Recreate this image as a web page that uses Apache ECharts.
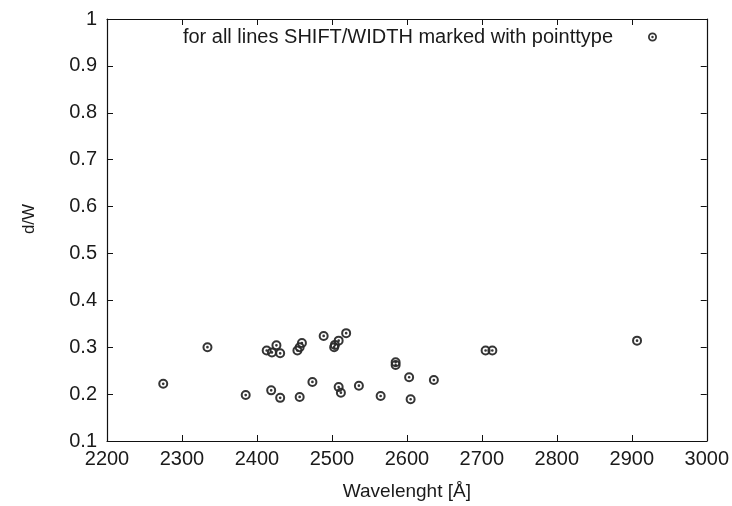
<!DOCTYPE html>
<html>
<head>
<meta charset="utf-8">
<script src="https://cdn.jsdelivr.net/npm/echarts@6/dist/echarts.min.js"></script>
<style>
html,body{margin:0;padding:0;background:#fff;}
#c{width:732px;height:506px;}
</style>
</head>
<body>
<div id="c"></div>
<script>
const wavelength = [2275, 2334, 2385, 2413, 2419, 2420, 2426, 2431, 2431, 2454, 2457, 2457, 2460, 2474, 2489, 2503, 2504, 2509, 2509, 2512, 2519, 2536, 2565, 2585, 2585, 2603, 2605, 2636, 2705, 2714, 2907];
const dW       = [0.222, 0.300, 0.198, 0.293, 0.208, 0.289, 0.304, 0.287, 0.192, 0.293, 0.300, 0.194, 0.309, 0.226, 0.324, 0.300, 0.305, 0.314, 0.215, 0.203, 0.330, 0.218, 0.196, 0.262, 0.268, 0.236, 0.189, 0.230, 0.293, 0.293, 0.314];
const seriesName = 'for all lines SHIFT/WIDTH marked with pointtype';
const xName = 'Wavelenght [Å]';
const yName = 'd/W';

const FONT = 'Liberation Sans, Arial, sans-serif';
const ringPath = 'path://M0,10 A10,10 0 1,1 20,10 A10,10 0 1,1 0,10 Z M4,10 A6,6 0 1,0 16,10 A6,6 0 1,0 4,10 Z M7.3,10 A2.7,2.7 0 1,1 12.7,10 A2.7,2.7 0 1,1 7.3,10 Z';

const chart = echarts.init(document.getElementById('c'), null, {renderer: 'canvas'});
const axisCommon = {
  axisLine: {show: true, lineStyle: {color: '#111', width: 1.2}},
  axisTick: {show: true, inside: true, length: 6, lineStyle: {color: '#111', width: 1}},
  splitLine: {show: false}
};
chart.setOption({
  animation: false,
  backgroundColor: '#fff',
  grid: {left: 107, right: 25, top: 19, bottom: 62.5, containLabel: false},
  legend: {
    data: [seriesName],
    align: 'right',
    right: 70,
    top: 22,
    itemWidth: 9,
    itemHeight: 9,
    icon: ringPath,
    itemStyle: {color: '#2a2a2a'},
    textStyle: {fontFamily: FONT, fontSize: 20, color: '#1a1a1a', padding: [0, 30, 0, 0]}
  },
  xAxis: [
    Object.assign({
      type: 'value', min: 2200, max: 3000, interval: 100, position: 'bottom',
      name: xName, nameLocation: 'middle', nameGap: 41,
      nameTextStyle: {fontFamily: FONT, fontSize: 19, color: '#1a1a1a'},
      axisLabel: {fontFamily: FONT, fontSize: 20, color: '#1a1a1a', margin: 8, formatter: v => String(v)}
    }, axisCommon),
    Object.assign({
      type: 'value', min: 2200, max: 3000, interval: 100, position: 'top',
      axisLabel: {show: false}
    }, axisCommon)
  ],
  yAxis: [
    Object.assign({
      type: 'value', min: 0.1, max: 1, interval: 0.1, position: 'left',
      axisLabel: {fontFamily: FONT, fontSize: 20, color: '#1a1a1a', margin: 10}
    }, axisCommon),
    Object.assign({
      type: 'value', min: 0.1, max: 1, interval: 0.1, position: 'right',
      axisLabel: {show: false}
    }, axisCommon)
  ],
  graphic: [{
    type: 'text', x: 29, y: 219, rotation: Math.PI / 2,
    style: {text: yName, fontFamily: FONT, fontSize: 17, fill: '#1a1a1a', textAlign: 'center', textVerticalAlign: 'middle'}
  }],
  series: [{
    name: seriesName,
    type: 'scatter',
    xAxisIndex: 0, yAxisIndex: 0,
    symbol: ringPath,
    symbolSize: 10,
    itemStyle: {color: '#2a2a2a', opacity: 0.95},
    data: wavelength.map((w, i) => [w, dW[i]])
  }]
});
</script>
</body>
</html>
